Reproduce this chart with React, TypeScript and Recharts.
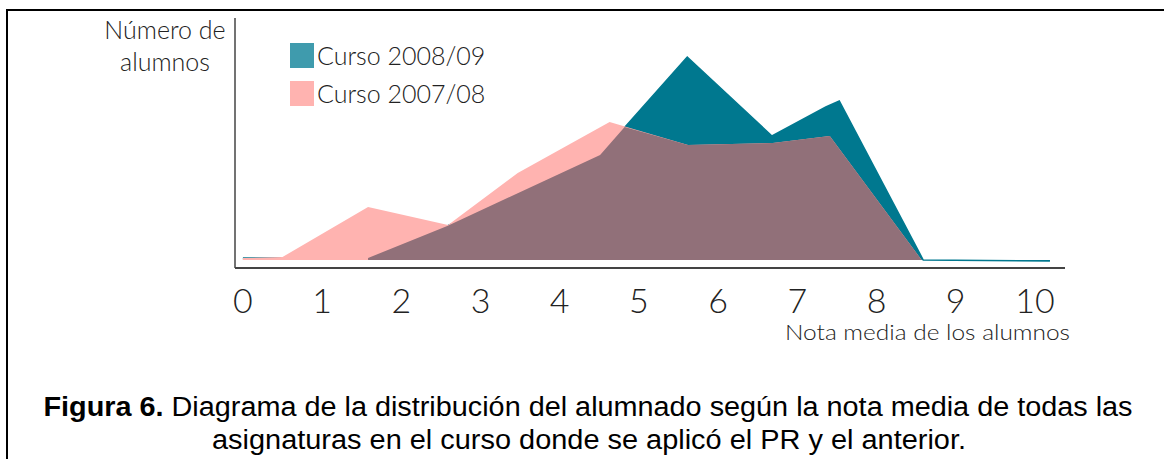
import React from 'react';
import { AreaChart, Area, XAxis, YAxis, ReferenceLine, Legend } from 'recharts';

// Curso 2008/09 (nota media -> número de alumnos, escala relativa)
const curso0809Notas = [0, 1.58, 2.58, 4.51, 5.61, 6.68, 7.36, 7.53, 8.59, 10.19];
const curso0809Alumnos = [1, 1, 17, 52.5, 101.5, 62, 76.5, 79.5, 0, -0.5];

// Curso 2007/08
const curso0708Notas = [0, 0.5, 1.58, 2.59, 3.47, 4.63, 5.62, 6.69, 7.41, 8.57];
const curso0708Alumnos = [1, 1.5, 26.5, 17.5, 43.5, 69, 57.5, 58.5, 62, 0];

// zona común de los dos cursos (se pinta en otro color)
const comunNotas = [1.58, 2.58, 4.51, 4.82, 5.62, 6.69, 7.41, 8.57];
const comunAlumnos = [1, 17, 52.5, 66.5, 57.5, 58.5, 62, 0];

const notaTicks = [0, 1, 2, 3, 4, 5, 6, 7, 8, 9, 10];

const legendItems = [
  { label: 'Curso 2008/09', color: '#3f9bad' },
  { label: 'Curso 2007/08', color: '#ffb3b0' },
];

type Row = { nota: number; c0809?: number; c0708?: number; comun?: number };

const series: { key: 'c0809' | 'c0708' | 'comun'; x: number[]; y: number[] }[] = [
  { key: 'c0809', x: curso0809Notas, y: curso0809Alumnos },
  { key: 'c0708', x: curso0708Notas, y: curso0708Alumnos },
  { key: 'comun', x: comunNotas, y: comunAlumnos },
];

const byNota = new Map<number, Row>();
series.forEach((s) => {
  s.x.forEach((x, i) => {
    const row = byNota.get(x) ?? { nota: x };
    row[s.key] = s.y[i];
    byNota.set(x, row);
  });
});
const rows = [...byNota.values()].sort((a, b) => a.nota - b.nota);

const handFont = 'Lato, "DejaVu Sans", sans-serif';

const LegendBox = () => (
  <div style={{ fontFamily: handFont, fontWeight: 300 }}>
    {legendItems.map((item) => (
      <div key={item.label} style={{ display: 'flex', alignItems: 'center', height: 25, marginBottom: 13 }}>
        <div style={{ width: 24, height: 25, background: item.color }} />
        <span style={{ marginLeft: 3, fontSize: 25, lineHeight: '25px', color: '#222' }}>{item.label}</span>
      </div>
    ))}
  </div>
);

export default function App() {
  return (
    <div
      style={{
        position: 'absolute',
        left: 0,
        top: 0,
        width: 1164,
        height: 459,
        overflow: 'hidden',
        background: '#fff',
      }}
    >
      <div
        style={{
          position: 'absolute',
          left: 6,
          top: 9,
          width: 1300,
          height: 600,
          borderLeft: '2px solid #000',
          borderTop: '2px solid #000',
        }}
      />
      <div style={{ position: 'absolute', left: 0, top: 0 }}>
        <AreaChart
          width={1164}
          height={459}
          data={rows}
          margin={{ top: 18, right: 99, bottom: 131, left: 235 }}
        >
          <XAxis
            type="number"
            dataKey="nota"
            domain={[-0.1, 10.38]}
            ticks={notaTicks}
            interval={0}
            allowDataOverflow
            height={60}
            tickLine={false}
            tickSize={0}
            tickMargin={21}
            axisLine={{ stroke: '#444', strokeWidth: 2 }}
            tick={{ fontSize: 34, fill: '#222', fontFamily: handFont, fontWeight: 300 }}
          />
          <YAxis type="number" domain={[-4, 121]} allowDataOverflow hide />
          <ReferenceLine x={-0.1} stroke="#444" strokeWidth={1.5} />
          <Area
            type="linear"
            dataKey="c0809"
            name="Curso 2008/09"
            stroke="#00788f"
            strokeWidth={1.5}
            fill="#00788f"
            fillOpacity={1}
            connectNulls
            dot={false}
            activeDot={false}
            isAnimationActive={false}
          />
          <Area
            type="linear"
            dataKey="c0708"
            name="Curso 2007/08"
            stroke="none"
            fill="#ffb3b0"
            fillOpacity={1}
            connectNulls
            dot={false}
            activeDot={false}
            isAnimationActive={false}
          />
          <Area
            type="linear"
            dataKey="comun"
            legendType="none"
            stroke="none"
            fill="#917079"
            fillOpacity={1}
            connectNulls
            dot={false}
            activeDot={false}
            isAnimationActive={false}
          />
          <Legend
            layout="vertical"
            align="center"
            verticalAlign="middle"
            content={() => <LegendBox />}
            wrapperStyle={{ position: 'absolute', left: 290, top: 43, width: 260, height: 80 }}
          />
        </AreaChart>
      </div>
      <svg
        width={1164}
        height={459}
        style={{ position: 'absolute', left: 0, top: 0, pointerEvents: 'none' }}
      >
        <g fontFamily={handFont} fontWeight={300} fill="#222">
          <text x={165} y={39} textAnchor="middle" fontSize={25}>Número de</text>
          <text x={165} y={71} textAnchor="middle" fontSize={25}>alumnos</text>
          <text x={1070} y={340} textAnchor="end" fontSize={22} textLength={285} lengthAdjust="spacingAndGlyphs">
            Nota media de los alumnos
          </text>
        </g>
        <g fontFamily='"Liberation Sans", Arial, sans-serif' fontSize={27} fill="#000">
          <text x={588} y={416} textAnchor="middle" textLength={1089} lengthAdjust="spacingAndGlyphs">
            <tspan fontWeight="bold">Figura 6.</tspan> Diagrama de la distribución del alumnado según la nota media de todas las
          </text>
          <text x={589} y={449} textAnchor="middle" textLength={754} lengthAdjust="spacingAndGlyphs">
            asignaturas en el curso donde se aplicó el PR y el anterior.
          </text>
        </g>
      </svg>
    </div>
  );
}
